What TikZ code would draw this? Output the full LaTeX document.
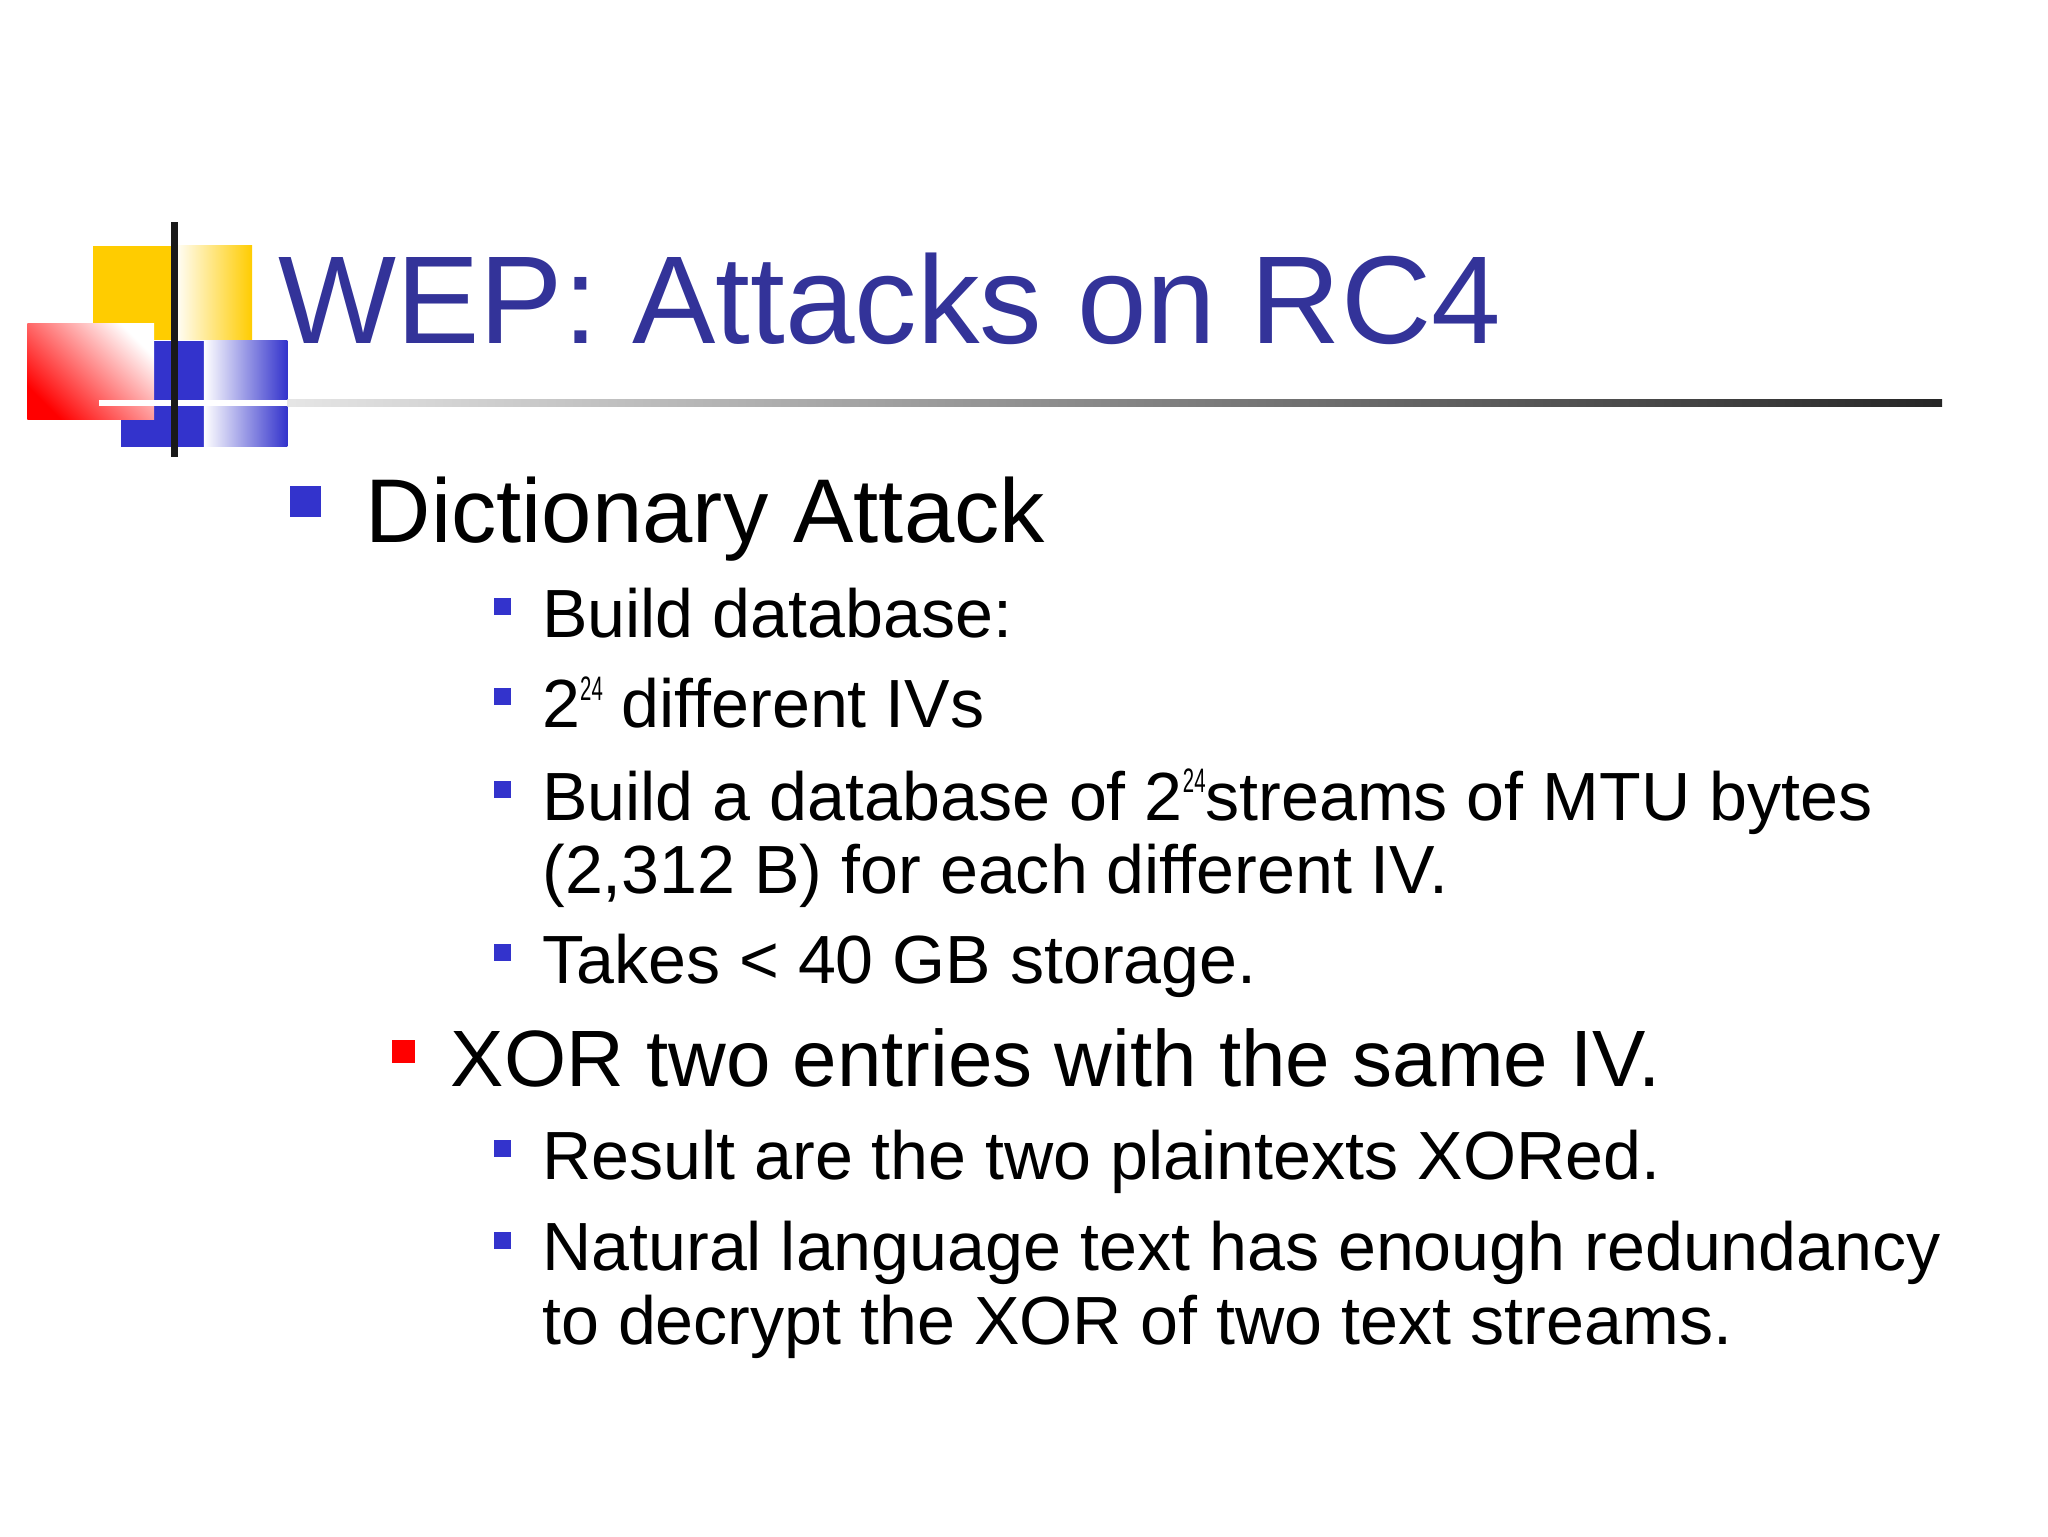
\documentclass[tikz,border=0pt]{standalone}
\usepackage{fontspec}
\setmainfont{Liberation Sans}
\definecolor{ttl}{HTML}{333399}
\definecolor{bl}{HTML}{3333CC}
\definecolor{yl}{HTML}{FFCC00}
\newcommand{\supx}{\raisebox{0.4em}{\fontsize{26}{26}\selectfont\addfontfeature{FakeStretch=0.6}24}}
\begin{document}
\begin{tikzpicture}[x=1pt,y=-1pt,
 t/.style={anchor=base west,inner sep=0pt,text=black},
 l1/.style={t,font=\fontsize{69.3}{80}\selectfont},
 l1b/.style={t,font=\fontsize{61.2}{70}\selectfont},
 l2/.style={t,font=\fontsize{52.2}{58}\selectfont,align=left},
 sq/.style={fill=bl}]
\useasboundingbox (0,0) rectangle (1568,1176);
% logo
\fill[yl] (71,188) rectangle (133,260);
\shade[left color=white,right color=yl] (133,188) rectangle (193,260);
\fill[bl] (93,261) rectangle (156,342);
\shade[left color=white,right color=bl] (156,261) rectangle (220,342);
\shade[left color=red,right color=white,shading angle=135] (21,248) rectangle (118,321);
\fill[white] (76,306) rectangle (220,311);
\shade[left color=gray!20,right color=black!85] (220,306) rectangle (1487,311);
\fill[black!90] (131,170) rectangle (136,350);
\node[t,text=ttl,font=\fontsize{95.7}{110}\selectfont] (title) at (213,263) {WEP: Attacks on RC4};
% bullets
\fill[sq] (222,372) rectangle (246,396);
\node[l1] (a) at (280,415) {Dictionary Attack};
\fill[sq] (378,458) rectangle (391,471);
\node[l2] (b1) at (415,488) {Build database:};
\fill[sq] (378,527) rectangle (391,540);
\node[l2] (b2) at (415,557) {2\supx\ different IVs};
\fill[sq] (378,598) rectangle (391,611);
\node[l2] (b3) at (415,628) {Build a database of 2\supx streams of MTU bytes};
\node[l2] (b3b) at (415,684) {(2,312 B) for each different IV.};
\fill[sq] (378,723) rectangle (391,736);
\node[l2] (b4) at (415,753) {Takes < 40 GB storage.};
\fill[red] (300,796) rectangle (318,814);
\node[l1b] (c) at (345,832) {XOR two entries with the same IV.};
\fill[sq] (378,873) rectangle (391,886);
\node[l2] (d1) at (415,903) {Result are the two plaintexts XORed.};
\fill[sq] (378,943) rectangle (391,956);
\node[l2] (d2) at (415,973) {Natural language text has enough redundancy};
\node[l2] (d2b) at (415,1029) {to decrypt the XOR of two text streams.};
\end{tikzpicture}
\end{document}
